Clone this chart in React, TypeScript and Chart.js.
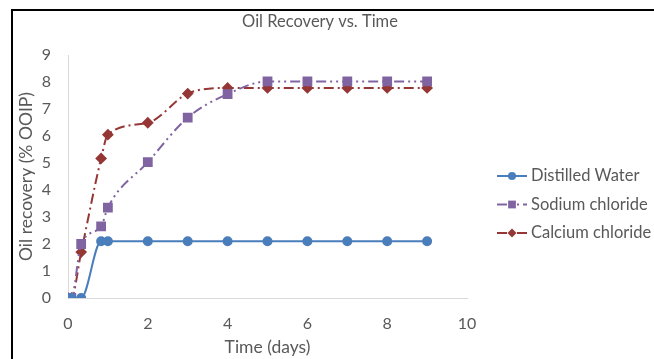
import React, { useEffect, useRef } from "react";
import { Chart, registerables } from "chart.js";

Chart.register(...registerables);

// Sampling times (days) and recovery (% OOIP) for each brine
const distilledTime = [0, 0.083, 0.33, 0.83, 1, 2, 3, 4, 5, 6, 7, 8, 9];
const distilledRecovery = [0, 0, 0, 2.1, 2.1, 2.1, 2.1, 2.1, 2.1, 2.1, 2.1, 2.1, 2.1];

const sodiumTime = [0, 0.083, 0.33, 0.83, 1, 2, 3, 4, 5, 6, 7, 8, 9];
const sodiumRecovery = [0, 0, 2.0, 2.65, 3.35, 5.03, 6.68, 7.55, 8.02, 8.02, 8.02, 8.02, 8.02];

const calciumTime = [0, 0.083, 0.33, 0.83, 1, 2, 3, 4, 5, 6, 7, 8, 9];
const calciumRecovery = [0, 0, 1.7, 5.17, 6.05, 6.49, 7.57, 7.78, 7.78, 7.78, 7.78, 7.78, 7.78];

const seriesNames = ["Distilled Water", "Sodium chloride", "Calcium chloride"];
const chartTitle = "Oil Recovery vs. Time";
const xTitle = "Time (days)";
const yTitle = "Oil recovery (% OOIP)";

const FONT = "Lato, 'Open Sans', sans-serif";
const TEXT = "#595959";
const AXIS = "#d9d9d9";
const BLUE = "#4a7ebb";
const PURPLE = "#8064a2";
const RED = "#953735";

const toPoints = (xs: number[], ys: number[]) => xs.map((x, i) => ({ x, y: ys[i] }));

function drawMarker(ctx: CanvasRenderingContext2D, style: string, x: number, y: number, r: number) {
  ctx.beginPath();
  if (style === "circle") {
    ctx.arc(x, y, r, 0, Math.PI * 2);
  } else if (style === "rect") {
    const s = r * Math.SQRT1_2;
    ctx.rect(x - s, y - s, s * 2, s * 2);
  } else {
    ctx.moveTo(x, y - r);
    ctx.lineTo(x + r, y);
    ctx.lineTo(x, y + r);
    ctx.lineTo(x - r, y);
    ctx.closePath();
  }
  ctx.fill();
}

// Draws the chart heading and the right-hand legend (line sample + marker)
const overlayPlugin = {
  id: "overlay",
  afterDraw(chart: any) {
    const { ctx, chartArea } = chart;
    ctx.save();
    ctx.fillStyle = TEXT;
    ctx.font = `16.5px ${FONT}`;
    ctx.textAlign = "center";
    ctx.textBaseline = "middle";
    ctx.fillText(chartTitle, 320, 22);

    const x0 = chartArea.right + 30;
    const y0 = 176;
    const gap = 28.5;
    chart.data.datasets.forEach((ds: any, i: number) => {
      const y = y0 + i * gap;
      ctx.strokeStyle = ds.borderColor;
      ctx.lineWidth = 2;
      ctx.setLineDash(ds.borderDash || []);
      ctx.beginPath();
      ctx.moveTo(x0, y);
      ctx.lineTo(x0 + 30, y);
      ctx.stroke();
      ctx.setLineDash([]);
      ctx.fillStyle = ds.pointBackgroundColor;
      drawMarker(ctx, ds.pointStyle, x0 + 15, y, ds.pointRadius);
      ctx.fillStyle = TEXT;
      ctx.font = `16.5px ${FONT}`;
      ctx.textAlign = "left";
      ctx.fillText(ds.label, x0 + 34, y);
    });
    ctx.restore();
  },
};

export default function App() {
  const canvasRef = useRef<HTMLCanvasElement | null>(null);

  useEffect(() => {
    const canvas = canvasRef.current;
    if (!canvas) return;
    const base = {
      borderWidth: 2,
      cubicInterpolationMode: "monotone" as const,
      pointHoverRadius: 5,
    };
    const chart = new Chart(canvas, {
      type: "line",
      data: {
        datasets: [
          {
            ...base,
            label: seriesNames[0],
            data: toPoints(distilledTime, distilledRecovery),
            borderColor: BLUE,
            pointBackgroundColor: BLUE,
            pointBorderColor: BLUE,
            pointStyle: "circle",
            pointRadius: 4,
            borderDash: [],
          },
          {
            ...base,
            label: seriesNames[1],
            data: toPoints(sodiumTime, sodiumRecovery),
            borderColor: PURPLE,
            pointBackgroundColor: PURPLE,
            pointBorderColor: PURPLE,
            pointStyle: "rect",
            pointRadius: 5.5,
            borderDash: [10, 4, 2, 4, 2, 4],
          },
          {
            ...base,
            label: seriesNames[2],
            data: toPoints(calciumTime, calciumRecovery),
            borderColor: RED,
            pointBackgroundColor: RED,
            pointBorderColor: RED,
            pointStyle: "rectRot",
            pointRadius: 4.5,
            borderDash: [10, 4, 2, 4],
          },
        ],
      },
      options: {
        responsive: false,
        animation: false,
        layout: { padding: { top: 55, right: 187, bottom: 0, left: 0 } },
        plugins: {
          legend: { display: false },
          title: { display: false },
          tooltip: { enabled: false },
        },
        scales: {
          x: {
            type: "linear",
            min: 0,
            max: 10,
            grid: { display: false, drawTicks: false },
            border: { display: true, color: AXIS, width: 1 },
            ticks: { stepSize: 2, color: TEXT, font: { family: FONT, size: 16 }, padding: 16 },
            title: {
              display: true,
              text: xTitle,
              color: TEXT,
              font: { family: FONT, size: 17.5 },
              padding: { top: 0, bottom: 1 },
            },
            afterFit: (scale: any) => {
              scale.height = 61;
            },
          },
          y: {
            type: "linear",
            min: 0,
            max: 9,
            grid: { display: false, drawTicks: false },
            border: { display: true, color: AXIS, width: 1 },
            ticks: { stepSize: 1, color: TEXT, font: { family: FONT, size: 16 }, padding: 17 },
            title: {
              display: true,
              text: yTitle,
              color: TEXT,
              font: { family: FONT, size: 17.5 },
              padding: { top: 16, bottom: 0 },
            },
            afterFit: (scale: any) => {
              scale.width = 68;
            },
          },
        },
      },
      plugins: [overlayPlugin],
    });
    return () => chart.destroy();
  }, []);

  return (
    <div style={{ position: "absolute", left: 0, top: 0, width: 654, height: 359, background: "#fff" }}>
      <canvas ref={canvasRef} width={654} height={359} style={{ display: "block" }} />
      <div
        style={{
          position: "absolute",
          left: 11,
          top: 9,
          width: 643,
          height: 350,
          boxSizing: "border-box",
          borderLeft: "2px solid #000",
          borderTop: "2px solid #000",
          pointerEvents: "none",
        }}
      />
    </div>
  );
}
